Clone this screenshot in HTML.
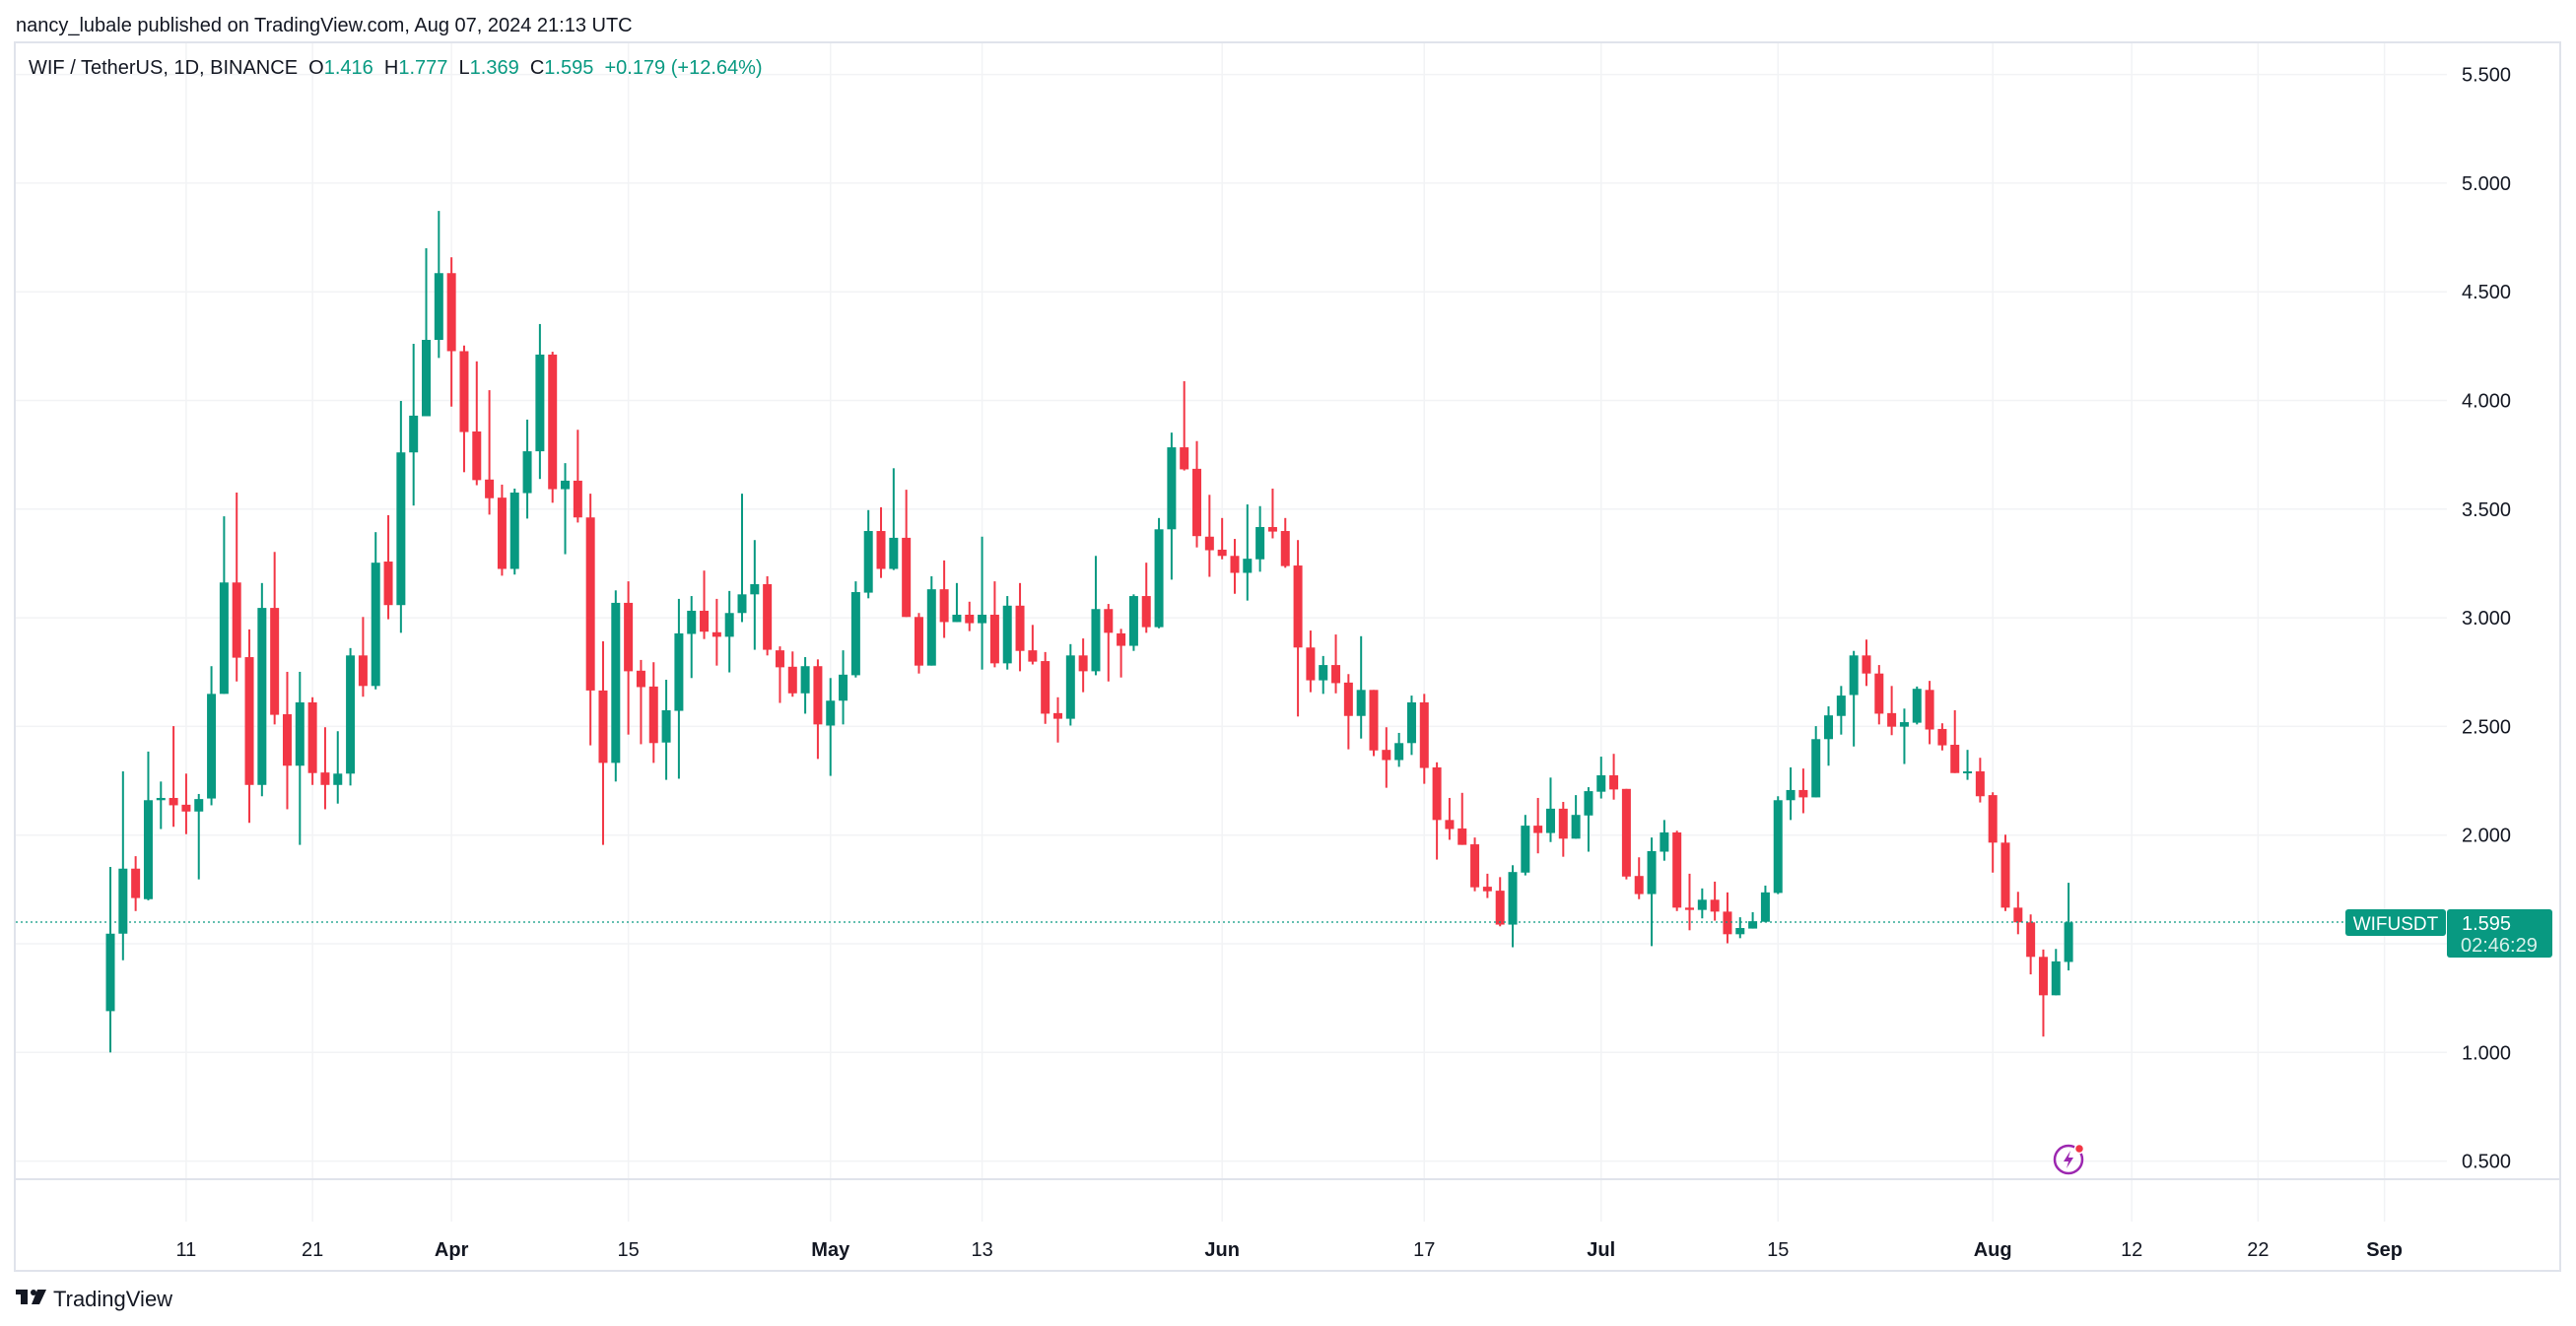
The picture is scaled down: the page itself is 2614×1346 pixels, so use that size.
<!DOCTYPE html>
<html><head><meta charset="utf-8"><style>
html,body{margin:0;padding:0;background:#fff;}
body{width:2614px;height:1346px;overflow:hidden;position:relative;font-family:"Liberation Sans",sans-serif;}
svg{position:absolute;left:0;top:0;}
</style></head><body>
<svg id="s" width="2614" height="1346" xmlns="http://www.w3.org/2000/svg" font-family="Liberation Sans, sans-serif">
<g id="grid"></g>
<rect x="15" y="43" width="2583" height="1247" fill="none" stroke="#e0e3eb" stroke-width="2"/>
<line x1="15" y1="1197" x2="2598" y2="1197" stroke="#e0e3eb" stroke-width="2"/>
<g id="candles"></g>
<line x1="16" y1="936" x2="2378" y2="936" stroke="#089981" stroke-width="1.3" stroke-dasharray="2,3"/>
<g id="labels" font-size="20" fill="#131722"></g>
<text x="16" y="32" font-size="20" fill="#131722">nancy_lubale published on TradingView.com, Aug 07, 2024 21:13 UTC</text>
<text x="29" y="75" font-size="20" fill="#131722" style="white-space:pre" xml:space="preserve">WIF / TetherUS, 1D, BINANCE  O<tspan fill="#089981">1.416</tspan>  H<tspan fill="#089981">1.777</tspan>  L<tspan fill="#089981">1.369</tspan>  C<tspan fill="#089981">1.595</tspan>  <tspan fill="#089981">+0.179 (+12.64%)</tspan></text>
<rect x="2380" y="923" width="102" height="27" rx="3" fill="#089981"/>
<text x="2431" y="944" font-size="19" fill="#fff" text-anchor="middle">WIFUSDT</text>
<rect x="2483" y="923" width="107" height="49" rx="3" fill="#089981"/>
<text x="2498" y="944" font-size="20" fill="#fff">1.595</text>
<text x="2497" y="966" font-size="20" fill="#d8f0ea">02:46:29</text>
<g transform="translate(2099,1177)">
<circle r="14" fill="none" stroke="#9c27b0" stroke-width="2.5"/>
<path d="M2,-9 L-5,2 L0,2 L-2,9 L5,-2 L0,-2 Z" fill="#9c27b0"/>
<circle cx="11" cy="-11" r="4.5" fill="#f23645" stroke="#fff" stroke-width="1.5"/>
</g>
<g transform="translate(16,1309)">
<rect x="0" y="0" width="12" height="5" fill="#131722"/><rect x="5" y="0" width="7" height="15" fill="#131722"/>
<circle cx="18" cy="3" r="3" fill="#131722"/><path d="M22,0 L31,0 L24,15 L16,15 Z" fill="#131722"/>
</g>
<text x="54" y="1326" font-size="22" fill="#131722">TradingView</text>
</svg>
<script>
var NS="http://www.w3.org/2000/svg";
function el(t,a,p){var e=document.createElementNS(NS,t);for(var k in a)e.setAttribute(k,a[k]);p.appendChild(e);return e;}
var g=document.getElementById('grid'),lab=document.getElementById('labels'),cg=document.getElementById('candles');
function py(p){return 1068.3-(p-1)*220.6;}
for(var i=1;i<=11;i++){var p=i*0.5,y=py(p);el('line',{x1:16,x2:2483,y1:y,y2:y,stroke:'#f2f3f5','stroke-width':1.5},g);
var t=el('text',{x:2498,y:y+7},lab);t.textContent=p.toFixed(3);}
var dates=[[6,'11',0],[16,'21',0],[27,'Apr',1],[41,'15',0],[57,'May',1],[69,'13',0],[88,'Jun',1],[104,'17',0],[118,'Jul',1],[132,'15',0],[149,'Aug',1],[160,'12',0],[170,'22',0],[180,'Sep',1]];
dates.forEach(function(d){var x=112+12.82*d[0];el('line',{x1:x,x2:x,y1:44,y2:1240,stroke:'#f2f3f5','stroke-width':1.5},g);
var t=el('text',{x:x,y:1275,'text-anchor':'middle','font-weight':d[2]?'bold':'normal'},lab);t.textContent=d[1];});
var D="G,1202,1320,1457,1530;G,1033,1205,1320,1367;R,1183,1205,1257,1280;G,998,1084,1259,1261;G,1051,1080,1084,1135;R,953,1080,1093,1131;R,1037,1092,1104,1144;G,1073,1082,1104,1224;G,847,896,1081,1093;G,582,699,896,896;R,540,699,832,874;R,782,831,1057,1124;G,700,744,1057,1077;R,645,744,933,950;R,857,932,1023,1100;G,857,911,1023,1163;R,902,911,1036,1057;R,955,1035,1057,1100;G,962,1037,1057,1090;G,815,828,1037,1058;R,760,828,882,901;G,610,664,882,888;R,580,662,739,764;G,378,469,739,788;G,277,404,469,563;G,108,270,405,405;G,42,152,270,302;R,124,152,290,388;R,280,290,433,504;R,308,432,518,527;R,359,517,550,579;R,526,549,675,687;G,533,540,675,685;G,411,467,541,586;G,242,296,467,516;R,291,296,534,558;G,488,519,534,649;R,429,519,584,593;R,542,584,890,987;R,803,890,1018,1163;G,713,735,1018,1051;R,697,735,856,968;R,836,855,884,985;R,840,883,983,1018;G,871,925,982,1048;G,728,789,926,1046;G,723,749,790,868;R,678,749,786,799;R,728,787,795,846;G,714,753,795,858;G,542,720,753,769;G,624,702,720,818;R,688,702,818,828;R,812,819,849,912;R,821,848,895,901;G,831,847,895,931;R,835,847,950,1011;G,868,908,952,1041;G,819,862,908,950;G,697,716,863,867;G,571,608,717,727;R,566,608,675,691;G,497,620,675,677;R,535,620,760,760;R,753,760,846,860;G,688,711,846,846;R,660,711,769,797;G,700,756,769,769;R,733,756,771,785;G,618,756,771,853;R,697,756,842,849;G,723,740,842,853;R,700,740,820,856;R,774,819,839,844;R,822,838,931,949;R,902,930,940,982;G,808,828,940,952;R,798,828,856,893;G,652,746,856,863;R,737,746,788,874;R,781,789,811,867;G,720,723,811,820;R,664,723,778,788;G,585,605,778,780;G,434,460,605,694;R,343,460,499,501;R,449,498,617,637;R,544,618,642,689;R,585,641,652,658;R,622,652,682,719;G,561,657,682,731;G,564,601,658,680;R,533,601,609,621;R,585,608,670,673;R,624,669,814,936;R,784,814,872,893;G,829,845,872,896;R,791,845,877,895;R,861,876,935,994;G,794,889,935,975;R,889,889,996,1006;R,955,995,1013,1062;G,965,983,1013,1025;G,899,911,983,1004;R,896,911,1027,1055;R,1017,1026,1119,1189;R,1080,1119,1135,1154;R,1071,1134,1163,1163;R,1150,1162,1238,1245;R,1214,1237,1245,1257;R,1220,1244,1304,1307;G,1199,1211,1304,1344;G,1110,1129,1212,1217;R,1080,1129,1142,1178;G,1044,1099,1142,1158;R,1087,1099,1152,1184;G,1075,1110,1152,1152;G,1061,1068,1111,1175;G,1007,1040,1069,1081;R,1002,1040,1065,1083;R,1064,1064,1219,1224;R,1185,1218,1250,1259;G,1150,1174,1250,1342;G,1119,1141,1175,1191;R,1138,1141,1274,1280;R,1214,1274,1278,1314;G,1240,1260,1278,1293;R,1228,1260,1281,1297;R,1247,1281,1321,1337;G,1291,1310,1321,1328;G,1282,1298,1311,1311;G,1235,1247,1299,1300;G,1077,1084,1248,1250;G,1026,1066,1084,1119;R,1028,1066,1079,1107;G,953,976,1079,1079;G,918,934,976,1023;G,882,899,935,968;G,820,828,898,989;R,800,828,860,882;R,845,860,931,950;R,882,930,954,969;G,922,946,954,1020;G,883,887,947,950;R,873,889,959,985;R,948,958,987,996;R,925,986,1036,1036;G,995,1033,1036,1048;R,1009,1033,1077,1088;R,1070,1075,1159,1212;R,1145,1159,1274,1280;R,1246,1274,1300,1321;R,1286,1300,1361,1392;R,1348,1361,1429,1502;G,1347,1369,1429,1429;G,1230,1300,1370,1385";
function ry(z){return 190+z/1.742;}
D.split(';').forEach(function(s,d){var a=s.split(','),c=a[0]=='G'?'#089981':'#f23645',x=112+12.82*d;
var wt=ry(+a[1]),bt=ry(+a[2]),bb=ry(+a[3]),wb=ry(+a[4]);
el('rect',{x:x-1,y:wt,width:2,height:Math.max(wb-wt,1),fill:c},cg);
el('rect',{x:x-4.5,y:bt,width:9,height:Math.max(bb-bt,2),fill:c},cg);});
</script>
</body></html>
